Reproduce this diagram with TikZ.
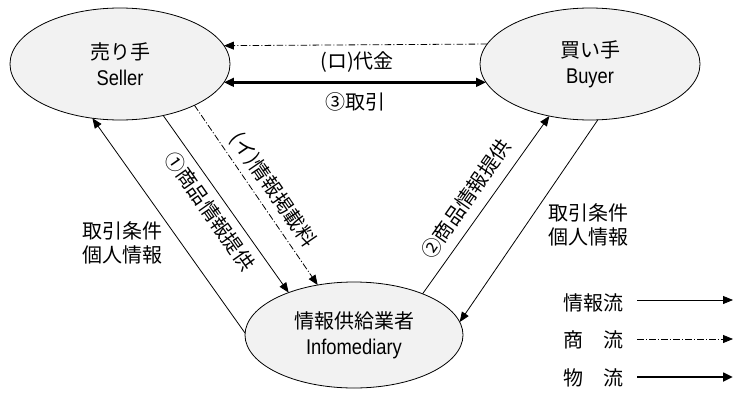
\documentclass[tikz,border=0pt]{standalone}
\usepackage{fontspec}
\setmainfont{Noto Sans CJK JP}
\newfontfamily\latn[FakeStretch=0.86]{Liberation Sans}
\usetikzlibrary{shapes.geometric,arrows.meta}
\tikzset{
  party/.style={ellipse,draw=black,line width=0.6pt,fill=black!5,inner sep=0pt,outer sep=0pt,
    minimum width=165pt,minimum height=84pt,align=center,font=\fontsize{15}{19.5}\selectfont},
  lbl/.style={inner sep=0pt,font=\fontsize{15}{17.5}\selectfont,align=center},
  lat/.style={},
  tip/.style={-{Triangle[length=7.5pt,width=6pt]}},
  infoflow/.style={tip,line width=0.6pt},
  moneyflow/.style={tip,line width=0.6pt,dash pattern=on 5pt off 1.6pt on 0.8pt off 1.6pt},
  goodsflow/.style={-{Triangle[length=7.5pt,width=6.5pt]},line width=2.2pt},
}
\begin{document}
\begin{tikzpicture}[x=0.75pt,y=-0.75pt]
\useasboundingbox (0,0) rectangle (745,393);
\fill[white] (0,0) rectangle (745,393);
% parties
\node[party] (seller) at (120,64) {売り手\\{\latn\fontsize{16}{19.5}\selectfont Seller}};
\node[party] (buyer) at (590,64) {買い手\\{\latn\fontsize{16}{19.5}\selectfont Buyer}};
\node[party,minimum width=163.5pt,minimum height=79.5pt] (info) at (354,335) {情報供給業者\\{\latn\fontsize{16}{20}\selectfont Infomediary}};
% horizontal flows
\draw[moneyflow] (buyer.169.6) -- (seller.10.4);
\draw[goodsflow,{Triangle[length=7.5pt,width=6.5pt]}-{Triangle[length=7.5pt,width=6.5pt]}] (seller.-10.4) -- (buyer.190.4);
\node[lbl] (lro) at (357,62) {(ロ)代金};
\node[lbl] (l3) at (355,102) {③取引};
% diagonal flows
\draw[infoflow] (info.179) -- (seller.243.4);
\draw[infoflow] (seller.-50.5) -- (info.147.3);
\draw[moneyflow] (seller.-29.8) -- (info.126.5);
\draw[infoflow] (info.31.2) -- (buyer.-128.5);
\draw[infoflow] (buyer.-82.6) -- (info.7.9);
\node[lbl,rotate=-55] (l1) at (210,211) {①商品情報提供};
\node[lbl,rotate=-55.6] (li) at (273,190) {(イ)情報掲載料};
\node[lbl,rotate=55] (l2) at (466,199) {②商品情報提供};
\node[lbl] (lc1) at (122,243) {取引条件\\個人情報};
\node[lbl] (lc2) at (588,225) {取引条件\\個人情報};
% legend
\node[lbl] (leg1) at (593,303) {情報流};
\node[lbl] (leg2) at (593,340) {商　流};
\node[lbl] (leg3) at (593,378) {物　流};
\coordinate (a1s) at (637,300); \coordinate (a1e) at (733,300);
\coordinate (a2s) at (637,339); \coordinate (a2e) at (733,339);
\coordinate (a3s) at (637,377); \coordinate (a3e) at (733,377);
\draw[infoflow] (a1s) -- (a1e);
\draw[moneyflow] (a2s) -- (a2e);
\draw[goodsflow] (a3s) -- (a3e);
\end{tikzpicture}
\end{document}
